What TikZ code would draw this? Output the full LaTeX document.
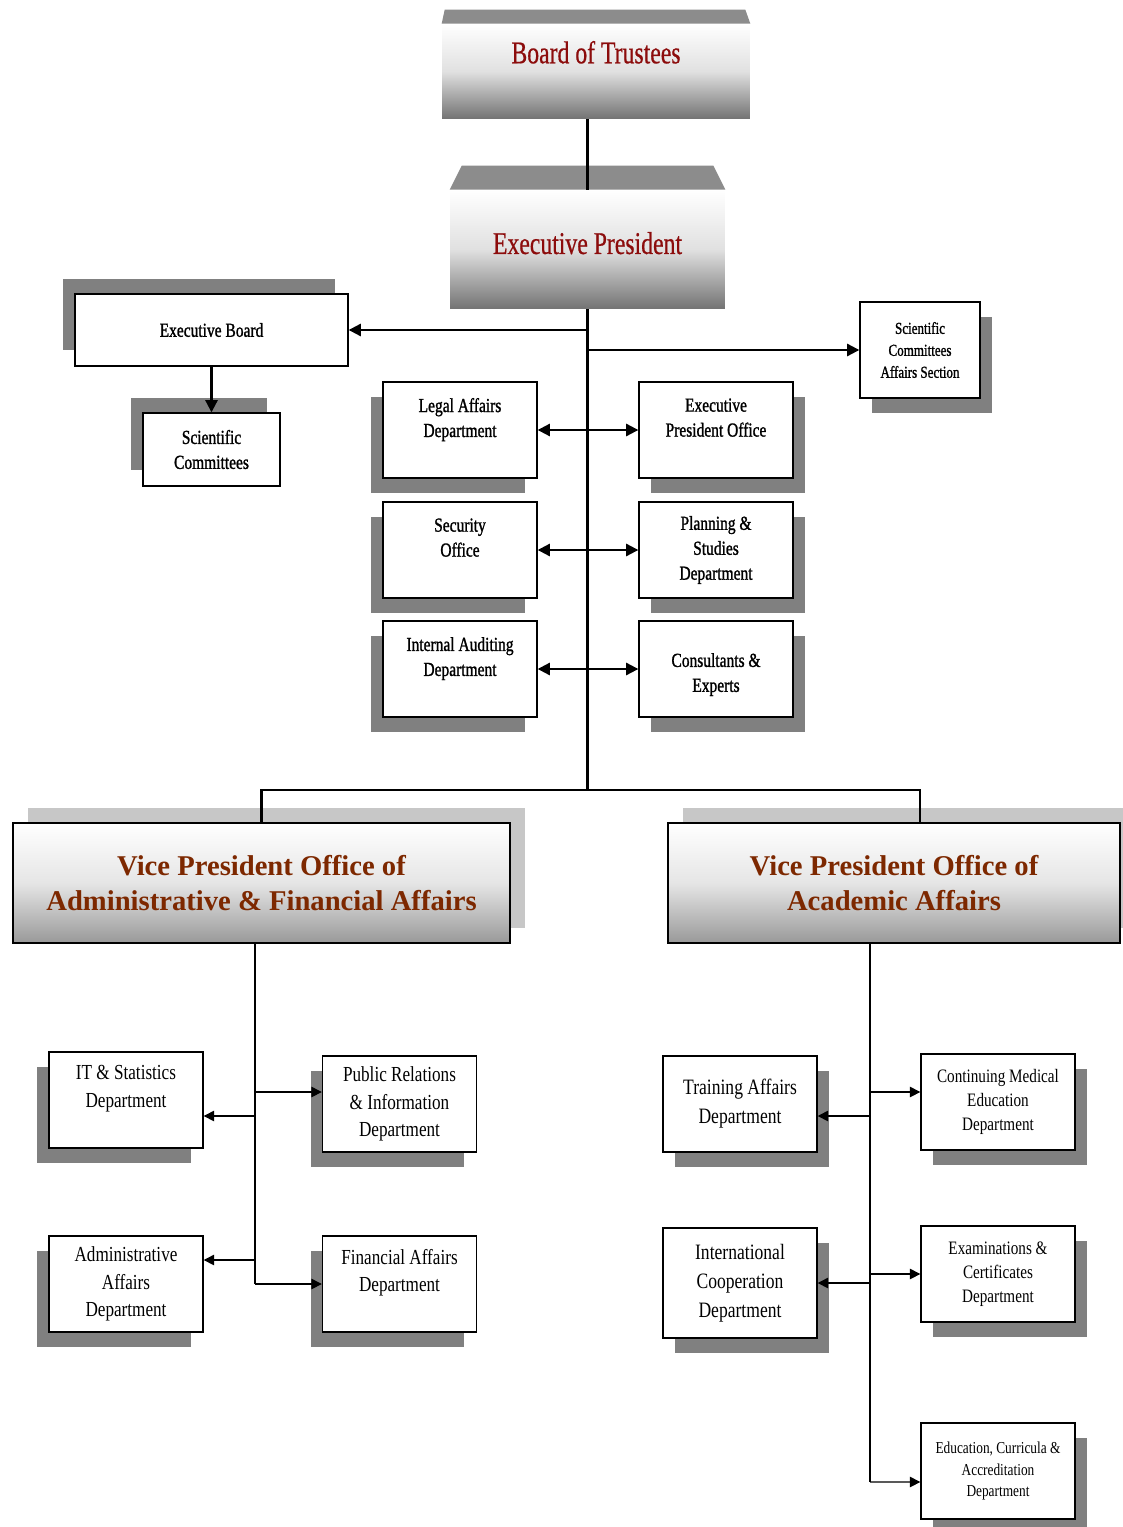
\documentclass[tikz,border=0pt]{standalone}
\usepackage{fontspec}
\setmainfont{Liberation Serif}
\newfontfamily\condfont[FakeStretch=0.8]{Liberation Serif}
\newfontfamily\condheavy[FakeStretch=0.78, FakeBold=1.2]{Liberation Serif}
\newfontfamily\headfont[FakeStretch=0.75, FakeBold=0.6]{Liberation Serif}
\usetikzlibrary{positioning,shadows,arrows.meta}
\definecolor{headred}{RGB}{140,12,12}
\definecolor{vpbrown}{RGB}{125,40,0}
\newcommand{\fmid}{\condheavy\fontsize{11.3}{14.2}\selectfont}
\newcommand{\fadm}{\condfont\fontsize{12.2}{15.6}\selectfont}
\newcommand{\facd}{\condfont\fontsize{12.5}{16.5}\selectfont}
\newcommand{\fsml}{\condfont\fontsize{10.8}{13.6}\selectfont}
\newcommand{\ftiny}{\condfont\fontsize{9.5}{12.5}\selectfont}
\newcommand{\ftinyh}{\condheavy\fontsize{9.5}{12.5}\selectfont}
\tikzset{
  box/.style = {draw, line width=0.8pt, fill=white, align=center, inner sep=0pt},
  dept/.style = {box, minimum width=3.08cm, minimum height=1.92cm},
  shl/.style = {general shadow={fill=black!50, shadow xshift=-0.24cm, shadow yshift=-0.3cm}},
  shr/.style = {general shadow={fill=black!50, shadow xshift=0.24cm, shadow yshift=-0.3cm}},
  shul/.style = {general shadow={fill=black!50, shadow xshift=-0.25cm, shadow yshift=0.31cm}},
  head/.style = {top color=white, bottom color=black!55, middle color=black!12, text=headred,
    align=center, font=\headfont\fontsize{18}{22}\selectfont, inner sep=0pt},
  vp/.style = {draw, line width=1pt, top color=white, bottom color=black!40, middle color=black!10,
    text=vpbrown, align=center, font=\bfseries\fontsize{16.3}{19.5}\selectfont,
    minimum height=2.4cm, inner sep=0pt,
    general shadow={fill=black!22, shadow xshift=0.3cm, shadow yshift=0.3cm}},
}
\begin{document}
\begin{tikzpicture}[x=0.02cm, y=-0.02cm, >={Triangle[length=7pt, width=7pt]}]
\useasboundingbox (0,0) rectangle (1122,1527);
% top of the chart
\node[head, minimum width=6.16cm, minimum height=1.9cm] (bot) at (596,71.5) {Board of Trustees\\~};
\node[head, minimum width=5.5cm, minimum height=2.38cm] (ep) at (587.5,249.5) {Executive President\\[-14.6pt]~};
\fill[black!45] (bot.north west) -- ([xshift=0.06cm, yshift=0.28cm]bot.north west)
  -- ([xshift=-0.1cm, yshift=0.28cm]bot.north east) -- (bot.north east) -- cycle;
\fill[black!45] (ep.north west) -- ([xshift=0.24cm, yshift=0.48cm]ep.north west)
  -- ([xshift=-0.24cm, yshift=0.48cm]ep.north east) -- (ep.north east) -- cycle;
\node[box, shul, minimum width=5.46cm, minimum height=1.44cm, font=\fmid] (eb) at (211.5,330) {Executive Board};
\node[box, shul, minimum width=2.74cm, minimum height=1.46cm, font=\fmid] (sc) at (211.5,449.5) {Scientific\\Committees};
\node[box, shr, minimum width=2.4cm, minimum height=1.92cm, font=\ftinyh] (sca) at (920,350) {Scientific\\Committees\\Affairs Section};
% offices beside the executive president
\node[dept, shl, font=\fmid] (legal) at (460,430) {Legal Affairs\\Department\\~};
\node[dept, shr, font=\fmid] (epo) at (716,430) {Executive\\President Office\\~};
\node[dept, shl, font=\fmid] (sec) at (460,550) {Security\\Office\\~};
\node[dept, shr, font=\fmid] (plan) at (716,550) {Planning \&\\Studies\\Department};
\node[dept, shl, font=\fmid] (aud) at (460,669) {Internal Auditing\\Department\\~};
\node[dept, shr, font=\fmid] (cons) at (716,669) {~\\Consultants \&\\Experts};
% vice presidents
\node[vp, minimum width=9.94cm] (vpa) at (261.5,883) {Vice President Office of\\Administrative \& Financial Affairs};
\node[vp, minimum width=9.04cm] (vpc) at (894,883) {Vice President Office of\\Academic Affairs};
% departments
\node[dept, shl, font=\fadm] (it) at (126,1100) {IT \& Statistics\\Department\\~};
\node[dept, shl, font=\fadm] (pr) at (399.5,1104) {Public Relations\\\& Information\\Department};
\node[dept, shl, font=\fadm] (adm) at (126,1284) {Administrative\\Affairs\\Department};
\node[dept, shl, font=\fadm] (fin) at (399.5,1284) {Financial Affairs\\Department\\~};
\node[dept, shr, font=\facd] (trn) at (740,1104) {Training Affairs\\Department};
\node[dept, shr, font=\fsml] (cme) at (998,1102) {Continuing Medical\\Education\\Department};
\node[dept, shr, font=\facd, minimum height=2.2cm] (intl) at (740,1283) {International\\Cooperation\\Department};
\node[dept, shr, font=\fsml] (exam) at (998,1274) {Examinations \&\\Certificates\\Department};
\node[dept, shr, font=\ftiny] (eca) at (998,1471) {Education, Curricula \&\\Accreditation\\Department};
% connectors
\coordinate (split) at (587.5,790);
\coordinate (abus) at (255,1284);
\coordinate (cbus) at (870,1482);
\begin{scope}[line width=1.2pt]
\draw (ep.north |- bot.south) -- (ep.north);
\draw (ep.south) -- (split);
\draw (vpa.north) |- (split) -| ([xshift=0.52cm]vpc.north);
\draw[->] (ep.south |- eb.east) -- (eb.east);
\draw[->] (eb.south) -- (sc.north);
\draw[->] (ep.south |- sca.west) -- (sca.west);
\draw[<->] (legal.east) -- (epo.west);
\draw[<->] (sec.east) -- (plan.west);
\draw[<->] (aud.east) -- (cons.west);
\end{scope}
\begin{scope}[line width=0.8pt, >={Triangle[length=6pt, width=6pt]}]
\draw (abus |- vpa.south) -- (abus);
\draw[->] ([yshift=-0.32cm]abus |- it.east) -- ([yshift=-0.32cm]it.east);
\draw[->] ([yshift=0.24cm]abus |- pr.west) -- ([yshift=0.24cm]pr.west);
\draw[->] ([yshift=0.48cm]abus |- adm.east) -- ([yshift=0.48cm]adm.east);
\draw[->] (abus) -- (fin.west);
\draw (cbus |- vpc.south) -- (cbus);
\draw[->] ([yshift=-0.24cm]cbus |- trn.east) -- ([yshift=-0.24cm]trn.east);
\draw[->] ([yshift=0.2cm]cbus |- cme.west) -- ([yshift=0.2cm]cme.west);
\draw[->] (cbus |- intl.east) -- (intl.east);
\draw[->] (cbus |- exam.west) -- (exam.west);
\draw[->] (cbus) -- ([yshift=-0.22cm]eca.west);
\end{scope}
\end{tikzpicture}
\end{document}
